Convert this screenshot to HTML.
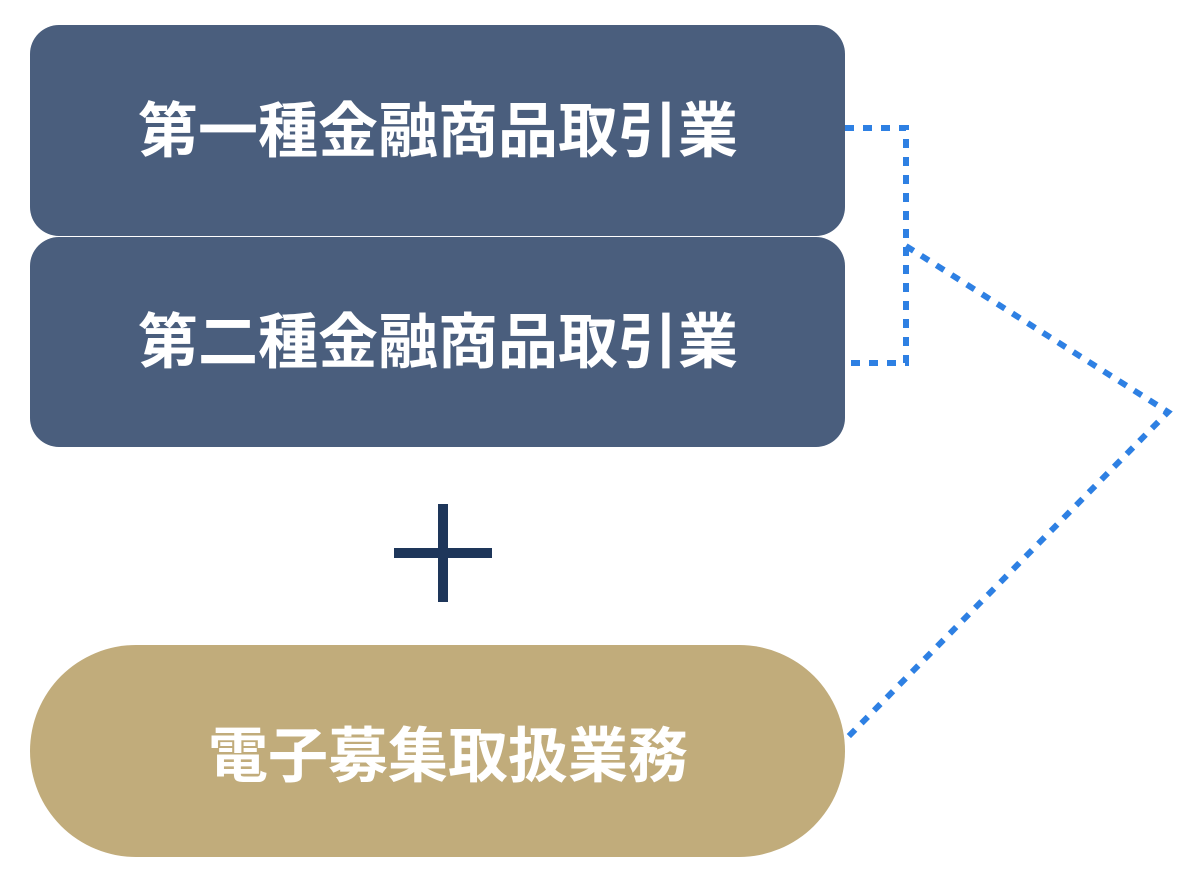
<!DOCTYPE html>
<html>
<head>
<meta charset="utf-8">
<style>
  html, body { margin: 0; padding: 0; background: #ffffff; }
  body { width: 1200px; height: 881px; overflow: hidden; }
  svg { display: block; }
  text { font-family: "Liberation Sans", "Noto Sans CJK JP", sans-serif; font-weight: 700; fill: #ffffff; }
</style>
</head>
<body>
<svg width="1200" height="881" viewBox="0 0 1200 881" xmlns="http://www.w3.org/2000/svg">
  <rect x="0" y="0" width="1200" height="881" fill="#ffffff"/>
  <!-- Box 1 -->
  <rect x="30" y="25" width="815" height="211" rx="29" ry="29" fill="#4A5E7D"/>
  <!-- Box 2 -->
  <rect x="30" y="237" width="815" height="210" rx="29" ry="29" fill="#4A5E7D"/>
  <!-- Gold pill -->
  <rect x="30" y="645" width="815" height="212" rx="106" ry="106" fill="#C1AC7B"/>

  <text x="438" y="152" font-size="60" text-anchor="middle">第一種金融商品取引業</text>
  <text x="438" y="363" font-size="60" text-anchor="middle">第二種金融商品取引業</text>
  <text x="448" y="777" font-size="60" text-anchor="middle">電子募集取扱業務</text>

  <!-- Plus -->
  <rect x="438" y="504" width="10" height="98" fill="#1E365A"/>
  <rect x="394" y="548" width="98" height="10" fill="#1E365A"/>

  <!-- Dotted connectors -->
  <g fill="none" stroke="#2E80E3" stroke-width="6" stroke-dasharray="9 9">
    <polyline points="845,128 906,128 906,363 845,363"/>
    <polyline points="906,246 1168,412 845,740"/>
  </g>
</svg>
</body>
</html>
